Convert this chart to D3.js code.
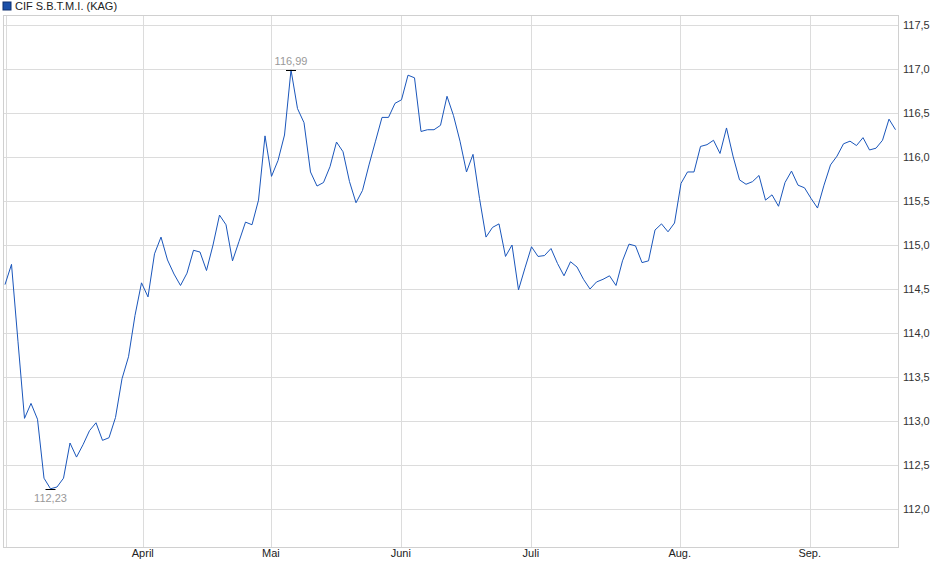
<!DOCTYPE html>
<html><head><meta charset="utf-8">
<script src="https://cdn.jsdelivr.net/npm/d3@7"></script>
<style>body{margin:0;background:#fff;font-family:"Liberation Sans",Arial,sans-serif}</style>
</head><body><svg id="c" width="940" height="579"></svg>
<script>
const title = "CIF S.B.T.M.I. (KAG)";
const values = [114.55,114.78,113.9,113.03,113.20,113.02,112.35,112.23,112.25,112.35,
112.75,112.59,112.73,112.89,112.98,112.78,112.81,113.04,113.48,113.73,
114.2,114.57,114.41,114.9,115.09,114.83,114.67,114.54,114.68,114.94,
114.92,114.71,115.0,115.34,115.23,114.82,115.04,115.26,115.23,115.51,
116.24,115.78,115.96,116.25,116.99,116.55,116.39,115.83,115.67,115.71,
115.89,116.17,116.06,115.72,115.48,115.62,115.91,116.18,116.45,116.45,
116.61,116.65,116.93,116.90,116.29,116.31,116.31,116.36,116.69,116.47,
116.18,115.83,116.03,115.53,115.09,115.20,115.24,114.87,115.0,114.49,
114.74,114.98,114.87,114.88,114.96,114.79,114.65,114.81,114.75,114.61,
114.50,114.58,114.61,114.65,114.54,114.82,115.01,114.99,114.80,114.82,
115.17,115.24,115.15,115.25,115.70,115.83,115.83,116.12,116.14,116.19,
116.04,116.33,116.01,115.74,115.69,115.72,115.79,115.51,115.57,115.44,
115.71,115.84,115.68,115.65,115.53,115.42,115.68,115.91,116.01,116.15,
116.18,116.13,116.22,116.08,116.10,116.19,116.43,116.31];
const monthLabels = ["April","Mai","Juni","Juli","Aug.","Sep."];
const monthPos = [21.2,40.9,60.9,80.9,103.8,123.8];
const yTicks = [112.0,112.5,113.0,113.5,114.0,114.5,115.0,115.5,116.0,116.5,117.0,117.5];

const svg = d3.select("#c");
const L=4, R=898, T=15, B=547;
const x = d3.scaleLinear().domain([0, values.length-1]).range([5, 895.5]);
const y = d3.scaleLinear().domain([112.0,117.5]).range([509,25]);
const fmt = v => d3.format(".1f")(v).replace(".", ",");

const g = svg.append("g");
g.selectAll(".hy").data(yTicks).join("line")
 .attr("x1",L).attr("x2",R).attr("y1",d=>Math.round(y(d))+0.5).attr("y2",d=>Math.round(y(d))+0.5)
 .attr("stroke","#dcdcdc");
g.selectAll(".vx").data(monthPos).join("line")
 .attr("y1",T).attr("y2",B).attr("x1",d=>Math.round(x(d))+0.5).attr("x2",d=>Math.round(x(d))+0.5)
 .attr("stroke","#dcdcdc");
g.append("line").attr("x1",6.5).attr("x2",6.5).attr("y1",T).attr("y2",B).attr("stroke","#dcdcdc");
svg.append("rect").attr("x",L-0.5).attr("y",T+0.5).attr("width",R-L+1).attr("height",B-T)
 .attr("fill","none").attr("stroke","#d0d0d0");

svg.selectAll(".yl").data(yTicks).join("text")
 .attr("x",903).attr("y",d=>y(d)+4).attr("font-size",11).attr("fill","#333").text(fmt);
svg.selectAll(".xl").data(monthPos).join("text")
 .attr("x",d=>x(d)).attr("y",557).attr("text-anchor","middle").attr("font-size",11).attr("fill","#222")
 .text((d,i)=>monthLabels[i]);

svg.append("path").datum(values)
 .attr("d", d3.line().x((d,i)=>x(i)).y(d=>y(d)))
 .attr("fill","none").attr("stroke","#1a56bb").attr("stroke-width",1);

const iMax = d3.maxIndex(values), iMin = d3.minIndex(values);
const tag = (i, dy, off) => {
  svg.append("line").attr("x1",x(i)-5).attr("x2",x(i)+5).attr("y1",Math.round(y(values[i]))+0.5)
   .attr("y2",Math.round(y(values[i]))+0.5).attr("stroke","#000");
  svg.append("text").attr("x",x(i)).attr("y",y(values[i])+off).attr("text-anchor","middle")
   .attr("font-size",11).attr("fill","#999").text(d3.format(".2f")(values[i]).replace(".",","));
};
tag(iMax,0,-5); tag(iMin,0,13);

svg.append("rect").attr("x",3).attr("y",2).attr("width",8).attr("height",8).attr("fill","#1a4fa8").attr("stroke","#0d2f6e");
svg.append("text").attr("x",15).attr("y",10).attr("font-size",11).attr("fill","#222").text(title);
</script></body></html>
